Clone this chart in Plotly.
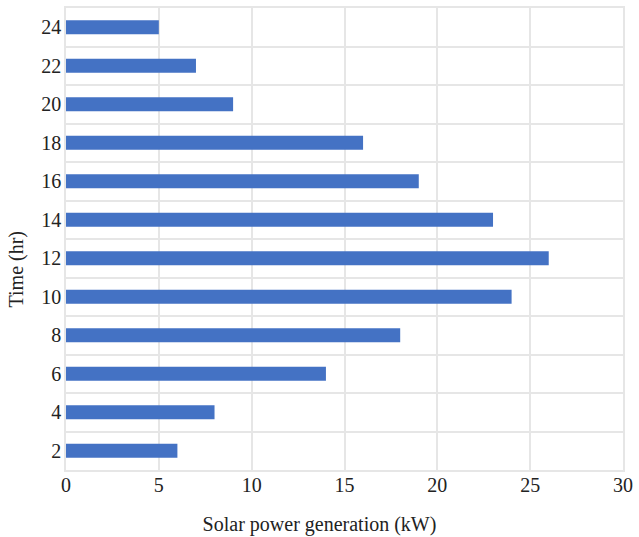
import plotly.graph_objects as go

# Hour of day and solar generation at that hour
hours = ["2", "4", "6", "8", "10", "12", "14", "16", "18", "20", "22", "24"]
power_kw = [6, 8, 14, 18, 24, 26, 23, 19, 16, 9, 7, 5]

x_ticks = [0, 5, 10, 15, 20, 25, 30]

W, H = 639, 537
M = dict(l=66, r=15, t=6, b=67)

fig = go.Figure(
    go.Bar(
        x=power_kw,
        y=hours,
        orientation="h",
        marker=dict(color="#4472C4", line=dict(width=0)),
        width=0.36,
    )
)

grid = "#E6E6E6"
font_family = "Liberation Serif"

# Axis titles are centred on the whole figure rather than on the plot area
plot_w = W - M["l"] - M["r"]
plot_h = H - M["t"] - M["b"]
ytitle_x = (16 - M["l"]) / plot_w
ytitle_y = (H - M["b"] - H / 2) / plot_h

fig.update_layout(
    width=W,
    height=H,
    margin=M,
    paper_bgcolor="white",
    plot_bgcolor="white",
    showlegend=False,
    font=dict(family=font_family, size=20, color="#222222"),
    title=dict(
        text="Solar power generation (kW)",
        font=dict(size=20, color="#222222"),
        xref="container",
        yref="container",
        x=0.5,
        y=13 / H,
        xanchor="center",
        yanchor="middle",
        pad=dict(t=0, b=0, l=0, r=0),
    ),
    annotations=[
        dict(
            text="Time (hr)",
            xref="paper",
            yref="paper",
            x=ytitle_x,
            y=ytitle_y,
            xanchor="center",
            yanchor="middle",
            textangle=-90,
            showarrow=False,
            font=dict(size=20, color="#222222"),
        )
    ],
)

fig.update_xaxes(
    range=[0, 30],
    tickvals=x_ticks,
    showgrid=True,
    gridcolor=grid,
    gridwidth=1.5,
    zeroline=False,
    showline=True,
    linecolor=grid,
    linewidth=1.5,
    mirror=True,
    ticks="",
    ticklen=0,
    tickfont=dict(size=20),
    ticklabelstandoff=-4,
)

fig.update_yaxes(
    type="category",
    categoryorder="array",
    categoryarray=hours,
    tickson="boundaries",
    showgrid=True,
    gridcolor=grid,
    gridwidth=1.5,
    showline=True,
    linecolor=grid,
    linewidth=1.5,
    mirror=True,
    ticks="",
    ticklen=0,
    tickfont=dict(size=20),
    ticklabelstandoff=-1,
)

fig.write_html("out.html")
